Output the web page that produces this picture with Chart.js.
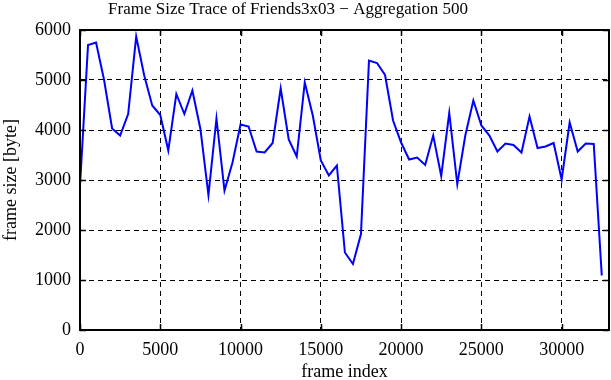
<!DOCTYPE html>
<html>
<head>
<meta charset="utf-8">
<script src="https://cdn.jsdelivr.net/npm/chart.js@4"></script>
<style>
  html, body { margin: 0; padding: 0; background: #fff; }
  #wrap { width: 611px; height: 380px; }
</style>
</head>
<body>
<div id="wrap"><canvas id="traceChart" width="611" height="380"></canvas></div>
<script>
// frame index (aggregation of 500 frames)
const frameIndex = [
  0, 500, 1000, 1500, 2000, 2500, 3000, 3500, 4000, 4500,
  5000, 5500, 6000, 6500, 7000, 7500, 8000, 8500, 9000, 9500,
  10000, 10500, 11000, 11500, 12000, 12500, 13000, 13500, 14000, 14500,
  15000, 15500, 16000, 16500, 17000, 17500, 18000, 18500, 19000, 19500,
  20000, 20500, 21000, 21500, 22000, 22500, 23000, 23500, 24000, 24500,
  25000, 25500, 26000, 26500, 27000, 27500, 28000, 28500, 29000, 29500,
  30000, 30500, 31000, 31500, 32000, 32500
];

// frame size in byte
const frameSize = [
  2880, 5700, 5750, 5000, 4030, 3890, 4320, 5870, 5090, 4490,
  4300, 3590, 4720, 4320, 4790, 4020, 2700, 4230, 2790, 3350,
  4110, 4070, 3570, 3550, 3740, 4830, 3810, 3470, 4950, 4290,
  3390, 3090, 3290, 1550, 1320, 1920, 5390, 5340, 5100, 4190,
  3750, 3410, 3450, 3300, 3890, 3080, 4340, 2920, 3890, 4590,
  4090, 3890, 3570, 3730, 3700, 3550, 4270, 3640, 3670, 3740,
  3010, 4150, 3570, 3730, 3720, 1090
];

// tick labels
const xTicks = [0, 5000, 10000, 15000, 20000, 25000, 30000];
const yTicks = [0, 1000, 2000, 3000, 4000, 5000, 6000];

const titleText = "Frame Size Trace of Friends3x03 \u2212 Aggregation 500";
const xMax = 32950;
const yMax = 6000;
const serif = "'Liberation Serif', 'DejaVu Serif', serif";

// draws the title, the box around the plot and the small inward ticks
const framePlugin = {
  id: "frame",
  afterDraw(chart) {
    const c = chart.ctx;
    const a = chart.chartArea;
    const xs = chart.scales.x;
    const ys = chart.scales.y;
    c.save();
    c.strokeStyle = "#000";
    c.lineWidth = 1.5;
    xs.ticks.forEach(function (t) {
      const px = Math.round(xs.getPixelForValue(t.value)) + 0.5;
      c.beginPath();
      c.moveTo(px, a.bottom); c.lineTo(px, a.bottom - 6);
      c.moveTo(px, a.top); c.lineTo(px, a.top + 6);
      c.stroke();
    });
    ys.ticks.forEach(function (t) {
      const py = Math.round(ys.getPixelForValue(t.value)) + 0.5;
      c.beginPath();
      c.moveTo(a.left, py); c.lineTo(a.left + 6, py);
      c.moveTo(a.right, py); c.lineTo(a.right - 6, py);
      c.stroke();
    });
    c.lineWidth = 2;
    c.strokeRect(a.left, a.top, a.right - a.left, a.bottom - a.top);

    c.fillStyle = "#000";
    c.font = "17px " + serif;
    c.textAlign = "center";
    c.textBaseline = "alphabetic";
    c.fillText(titleText, 288, 14);
    c.restore();
  }
};

const ctx = document.getElementById("traceChart").getContext("2d");

const traceChart = new Chart(ctx, {
  type: "line",
  data: {
    labels: frameIndex,
    datasets: [
      {
        label: "frame size",
        data: frameSize,
        borderColor: "#0000ff",
        backgroundColor: "#0000ff",
        borderWidth: 2,
        pointRadius: 0,
        tension: 0,
        fill: false,
      },
    ],
  },
  options: {
    responsive: false,
    animation: false,
    layout: {
      padding: { top: 30, right: 2, left: 0, bottom: 0 },
    },
    plugins: {
      legend: { display: false },
      title: { display: false },
      tooltip: { enabled: false },
    },
    scales: {
      x: {
        type: "linear",
        min: 0,
        max: xMax,
        afterBuildTicks(scale) {
          scale.ticks = xTicks.map(function (v) { return { value: v }; });
        },
        afterFit(scale) { scale.height = 50; },
        ticks: {
          autoSkip: false,
          padding: 9,
          color: "#000",
          font: { family: serif, size: 18 },
          maxRotation: 0,
          callback: function (v) { return String(v); },
        },
        grid: { color: "#000", lineWidth: 1, drawTicks: false },
        border: { display: false, dash: [5, 4] },
        title: {
          display: true,
          text: "frame index",
          color: "#000",
          font: { family: serif, size: 18 },
          padding: { top: 0, bottom: -3 },
        },
      },
      y: {
        type: "linear",
        min: 0,
        max: yMax,
        afterBuildTicks(scale) {
          scale.ticks = yTicks.map(function (v) { return { value: v }; });
        },
        afterFit(scale) { scale.width = 80; },
        ticks: {
          autoSkip: false,
          padding: 9,
          color: "#000",
          font: { family: serif, size: 18 },
          callback: function (v) { return String(v); },
        },
        grid: { color: "#000", lineWidth: 1, drawTicks: false },
        border: { display: false, dash: [5, 4] },
        title: {
          display: true,
          text: "frame size [byte]",
          color: "#000",
          font: { family: serif, size: 18 },
          padding: { top: 0, bottom: 0 },
        },
      },
    },
  },
  plugins: [framePlugin],
});
</script>
</body>
</html>
